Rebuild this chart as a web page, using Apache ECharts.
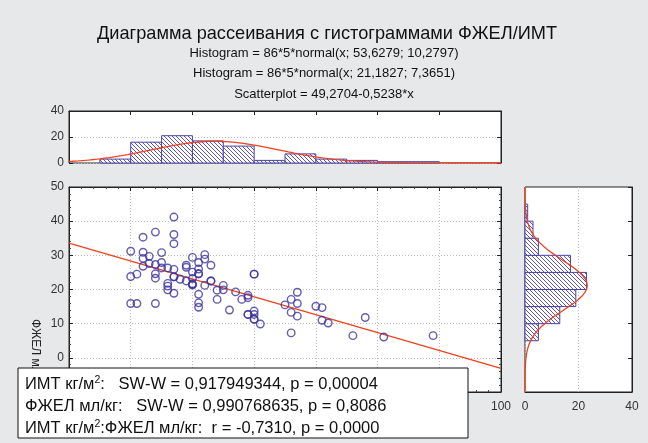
<!DOCTYPE html>
<html><head><meta charset="utf-8">
<script src="https://cdn.jsdelivr.net/npm/echarts@6/dist/echarts.min.js"></script>
<style>html,body{margin:0;padding:0;background:#e7e8ea;}#c{width:648px;height:443px;}</style>
</head><body><div id="c"></div>
<script>
// ---- data ----
const xValues = [40,40,41,40,41,42,42,42,42,43,43,44,44,44,44,44,45,45,45,46,46,46,46,47,47,47,47,47,47,48,49,49,49,50,50,50,50,50,51,51,51,51,51,51,52,52,52,53,53,54,54,55,55,56,57,58,59,59,59,60,60,60,60,61,65,66,66,66,67,67,67,70,71,71,72,76,78,81,89,50,47,51,53,60,59,60];
const yValues = [31.2,23.8,24.5,15.9,15.9,35.3,30.9,29.1,26.8,29.7,27.6,36.8,27.3,24.6,23.3,15.9,30.8,27.9,26.3,26.3,21.8,21.0,19.9,41.2,36.1,33.4,25.9,23.7,18.9,23.0,27.1,26.5,22.5,29.4,25.1,23.2,21.6,21.3,27.9,26.0,24.6,18.6,16.1,14.8,30.2,28.9,21.2,27.1,22.5,19.8,17.1,21.2,19.9,14.0,19.3,17.1,18.3,17.6,12.7,24.5,13.7,12.7,11.3,9.9,15.5,17.1,13.3,7.3,19.2,15.9,12.2,15.1,14.7,11.0,10.2,6.5,11.8,6.1,6.5,21.6,23.7,24.6,22.5,24.5,12.7,11.3];
const xBinStarts = [35,40,45,50,55,60,65,70,75,80,85];
const xBinCounts = [3,16,21,17,13,2,7,3,2,1,1];
const yBinStarts = [5,10,15,20,25,30,35,40];
const yBinCounts = [5,13,19,23,17,5,3,1];
const binWidth = 5;
const nObs = 86;
const xMean = 53.6279, xSd = 10.2797;
const yMean = 21.1827, ySd = 7.3651;
const regIntercept = 49.2704, regSlope = -0.5238;
const titleText = 'Диаграмма рассеивания с гистограммами ФЖЕЛ/ИМТ';
const subLines = ['Histogram = 86*5*normal(x; 53,6279; 10,2797)','Histogram = 86*5*normal(x; 21,1827; 7,3651)','Scatterplot = 49,2704-0,5238*x'];
const yAxisTitle = 'ФЖЕЛ мл/кг';
const boxLines = ['ИМТ кг/м{sup|2}:   SW-W = 0,917949344, p = 0,00004','ФЖЕЛ мл/кг:   SW-W = 0,990768635, p = 0,8086','ИМТ кг/м{sup|2}:ФЖЕЛ мл/кг:  r = -0,7310, p = 0,0000'];

// ---- helpers ----
function normPdf(v,m,s){return Math.exp(-0.5*((v-m)/s)*((v-m)/s))/(s*Math.sqrt(2*Math.PI));}
function hatchCanvas(){
  const c=document.createElement('canvas');c.width=4;c.height=4;
  const g=c.getContext('2d');g.fillStyle='#ffffff';g.fillRect(0,0,4,4);
  g.strokeStyle='#5a55b4';g.lineWidth=1;g.beginPath();
  g.moveTo(-1,-1);g.lineTo(5,5);g.moveTo(-1,3);g.lineTo(1,5);g.moveTo(3,-1);g.lineTo(5,1);g.stroke();
  return c;
}
const hatch={image:hatchCanvas(),repeat:'repeat'};
const FONT='Liberation Sans, Arial, sans-serif';
const pts=xValues.map((x,i)=>[x,yValues[i]]);
const topCurve=[];for(let x=30;x<=100.001;x+=0.5)topCurve.push([x,nObs*binWidth*normPdf(x,xMean,xSd)]);
const rightCurve=[];for(let y=-10;y<=50.001;y+=0.5)rightCurve.push([nObs*binWidth*normPdf(y,yMean,ySd),y]);
const regLine=[[30,regIntercept+regSlope*30],[100,regIntercept+regSlope*100]];

const gridLine={show:true,lineStyle:{color:'#bdbdbd',type:[1,2],width:1}};
const lbl={color:'#333',fontSize:12,fontFamily:FONT};
const tickIn={show:true,inside:true,length:4,lineStyle:{color:'#222'}};
const minorIn={show:true,splitNumber:5,length:2,lineStyle:{color:'#444'}};
const axLine={show:true,onZero:false,lineStyle:{color:'#222',width:1}};

const G0={left:69,top:111,width:432,height:52};
const G1={left:69,top:187,width:432,height:205};
const G2={left:525,top:187,width:107,height:205};
const gBase={show:true,backgroundColor:'#fff',borderColor:'#222',borderWidth:1,outerBoundsMode:'none'};

const chart=echarts.init(document.getElementById('c'),null,{renderer:'canvas'});
chart.setOption({
  animation:false,
  backgroundColor:'#e7e8ea',
  title:[
    {text:titleText,left:92,top:20,textStyle:{fontSize:18.2,fontWeight:'normal',color:'#111',fontFamily:FONT}},
    {text:subLines[0],left:'center',top:42,textStyle:{fontSize:13,fontWeight:'normal',color:'#111',fontFamily:FONT}},
    {text:subLines[1],left:'center',top:62,textStyle:{fontSize:13,fontWeight:'normal',color:'#111',fontFamily:FONT}},
    {text:subLines[2],left:'center',top:83,textStyle:{fontSize:13,fontWeight:'normal',color:'#111',fontFamily:FONT}}
  ],
  grid:[Object.assign({},gBase,G0),Object.assign({},gBase,G1),Object.assign({},gBase,G2)],
  xAxis:[
    {type:'value',gridIndex:0,min:30,max:100,interval:10,position:'top',axisLabel:{show:false},axisTick:tickIn,axisLine:axLine,splitLine:{show:false}},
    {type:'value',gridIndex:1,min:30,max:100,interval:10,position:'bottom',axisLabel:Object.assign({margin:9},lbl),axisTick:tickIn,minorTick:minorIn,axisLine:axLine,splitLine:gridLine},
    {type:'value',gridIndex:1,min:30,max:100,interval:10,position:'top',axisLabel:{show:false},axisTick:tickIn,minorTick:minorIn,axisLine:axLine,splitLine:{show:false}},
    {type:'value',gridIndex:2,min:0,max:40,interval:20,position:'bottom',axisLabel:Object.assign({margin:9},lbl),axisTick:{show:false},axisLine:axLine,splitLine:gridLine}
  ],
  yAxis:[
    {type:'value',gridIndex:0,min:0,max:40,interval:20,position:'left',axisLabel:Object.assign({margin:5},lbl),axisTick:tickIn,axisLine:axLine,splitLine:gridLine},
    {type:'value',gridIndex:0,min:0,max:40,interval:20,position:'right',axisLabel:{show:false},axisTick:tickIn,axisLine:axLine,splitLine:{show:false}},
    {type:'value',gridIndex:1,min:-10,max:50,interval:10,position:'left',axisLabel:Object.assign({margin:5},lbl),axisTick:tickIn,minorTick:minorIn,axisLine:axLine,splitLine:gridLine},
    {type:'value',gridIndex:1,min:-10,max:50,interval:10,position:'right',axisLabel:{show:false},axisTick:tickIn,minorTick:minorIn,axisLine:axLine,splitLine:{show:false}},
    {type:'value',gridIndex:2,min:-10,max:50,interval:10,position:'right',axisLabel:{show:false},axisTick:tickIn,axisLine:axLine,splitLine:{show:false}}
  ],
  series:[
    {type:'custom',xAxisIndex:0,yAxisIndex:0,data:xBinStarts.map((s,i)=>[s,xBinCounts[i]]),
     renderItem:(p,api)=>{const a=api.coord([api.value(0),api.value(1)]);const b=api.coord([api.value(0)+binWidth,0]);
       return {type:'rect',shape:{x:a[0],y:a[1],width:b[0]-a[0],height:b[1]-a[1]},style:{fill:hatch,stroke:'#4a44a8',lineWidth:1}};}},
    {type:'line',xAxisIndex:0,yAxisIndex:0,data:topCurve,showSymbol:false,smooth:false,lineStyle:{color:'#f2401e',width:1.3},z:5},
    {type:'line',xAxisIndex:1,yAxisIndex:2,data:regLine,showSymbol:false,lineStyle:{color:'#f2401e',width:1.3},z:3},
    {type:'scatter',xAxisIndex:1,yAxisIndex:2,data:pts,symbol:'circle',symbolSize:7.5,itemStyle:{color:'rgba(255,255,255,0)',borderColor:'#3c339e',borderWidth:1.4},z:4},
    {type:'custom',xAxisIndex:3,yAxisIndex:4,data:yBinStarts.map((s,i)=>[yBinCounts[i],s]),
     renderItem:(p,api)=>{const a=api.coord([0,api.value(1)+binWidth]);const b=api.coord([api.value(0),api.value(1)]);
       return {type:'rect',shape:{x:a[0],y:a[1],width:b[0]-a[0],height:b[1]-a[1]},style:{fill:hatch,stroke:'#4a44a8',lineWidth:1}};}},
    {type:'line',xAxisIndex:3,yAxisIndex:4,data:rightCurve,showSymbol:false,lineStyle:{color:'#f2401e',width:1.3},z:5}
  ],
  graphic:[
    {type:'text',x:35,y:319,rotation:-Math.PI/2,z:10,style:{text:yAxisTitle,font:'12px '+FONT,fill:'#222',align:'left',verticalAlign:'middle'}},
    {type:'rect',shape:{x:18,y:368,width:450,height:70},z:50,style:{fill:'#fff',stroke:'#111',lineWidth:1}},
    {type:'text',x:25,y:384,z:51,style:{text:boxLines[0],font:'16.5px '+FONT,fill:'#111',verticalAlign:'middle',rich:{sup:{fontSize:10.5,fontFamily:FONT,padding:[0,0,8,0],fill:'#111'}}}},
    {type:'text',x:25,y:406,z:51,style:{text:boxLines[1],font:'16.5px '+FONT,fill:'#111',verticalAlign:'middle'}},
    {type:'text',x:25,y:428,z:51,style:{text:boxLines[2],font:'16.5px '+FONT,fill:'#111',verticalAlign:'middle',rich:{sup:{fontSize:10.5,fontFamily:FONT,padding:[0,0,8,0],fill:'#111'}}}}
  ]
});
</script></body></html>
